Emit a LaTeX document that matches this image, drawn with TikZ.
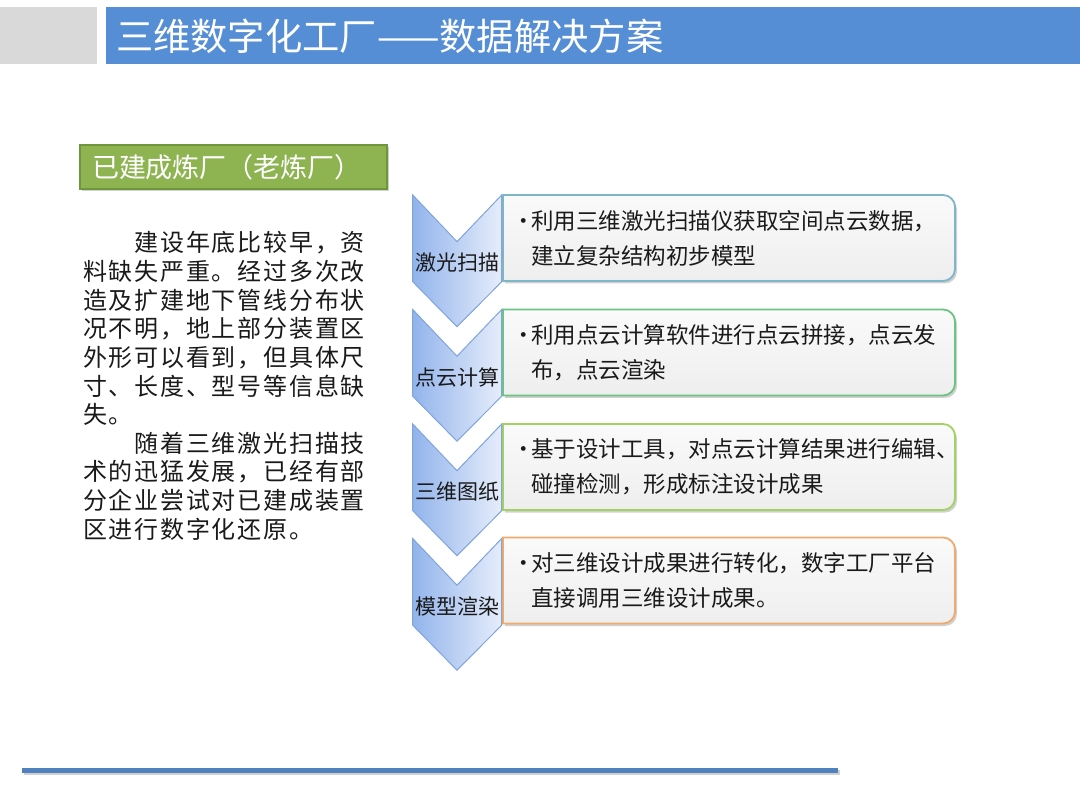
\documentclass[tikz,border=0pt]{standalone}
\usepackage{fontspec}
\newfontfamily\cjk{Noto Sans CJK SC}
\newfontfamily\cjkl[LetterSpace=7.5]{Noto Sans CJK SC}
\usetikzlibrary{shadows}
\definecolor{titlegray}{RGB}{217,217,217}
\definecolor{titleblue}{RGB}{85,142,213}
\definecolor{greenfill}{RGB}{142,180,82}
\definecolor{greenline}{RGB}{112,150,60}
\definecolor{chevL}{RGB}{146,180,236}
\definecolor{chevR}{RGB}{230,237,251}
\definecolor{chevline}{RGB}{128,164,220}
\definecolor{bcA}{RGB}{126,182,200}
\definecolor{bcB}{RGB}{108,196,130}
\definecolor{bcC}{RGB}{163,209,100}
\definecolor{bcD}{RGB}{240,170,110}
\definecolor{boxtop}{RGB}{250,250,250}
\definecolor{boxbot}{RGB}{238,238,238}
\definecolor{lineblue}{RGB}{79,129,189}
\definecolor{txt}{RGB}{26,26,26}
\tikzset{
  boxshadow/.style={drop shadow={shadow xshift=2pt, shadow yshift=-2.5pt, opacity=0.3, fill=black!60}},
  stepbox/.style={draw=#1, line width=1.8, top color=boxtop, bottom color=boxbot, boxshadow},
  chev/.style={draw=chevline, line width=1, left color=chevL, right color=chevR},
  chevlab/.style={font=\cjk\fontsize{21}{21}\selectfont, text=txt},
  boxtxt/.style={font=\cjk\fontsize{22.5}{22.5}\selectfont, text=txt, anchor=west},
  lefttxt/.style={font=\cjkl\fontsize{24}{24}\selectfont, text=txt, anchor=west},
}
\newcommand{\bul}{\makebox[15pt][c]{•}}
\begin{document}
\begin{tikzpicture}[x=1pt,y=-1pt, every node/.style={inner sep=0pt, outer sep=0pt}]
\useasboundingbox (0,0) rectangle (1080,810);
\fill[white] (0,0) rectangle (1080,810);
% title bar
\fill[titlegray] (0,7) rectangle (97,64);
\fill[titleblue] (106,7) rectangle (1080,64);
\node[anchor=west, text=white, font=\cjk\fontsize{37.3}{37.3}\selectfont] (title) at (116,36) {三维数字化工厂——数据解决方案};
% green heading
\node[draw=greenline, line width=1.5, fill=greenfill, boxshadow, minimum width=307, minimum height=44, anchor=north west] (head) at (80,145) {};
\node[anchor=west, text=white, font=\cjk\fontsize{27}{27}\selectfont] (headtxt) at (92,167) {已建成炼厂（老炼厂）};
% left paragraph
\node[lefttxt] (l1) at (134.6,243) {建设年底比较早，资};
\node[lefttxt] (l2) at (83,271.6) {料缺失严重。经过多次改};
\node[lefttxt] (l3) at (83,300.2) {造及扩建地下管线分布状};
\node[lefttxt] (l4) at (83,328.8) {况不明，地上部分装置区};
\node[lefttxt] (l5) at (83,357.4) {外形可以看到，但具体尺};
\node[lefttxt] (l6) at (83,386) {寸、长度、型号等信息缺};
\node[lefttxt] (l7) at (83,414.6) {失。};
\node[lefttxt] (l8) at (134.6,443.2) {随着三维激光扫描技};
\node[lefttxt] (l9) at (83,471.8) {术的迅猛发展，已经有部};
\node[lefttxt] (l10) at (83,500.4) {分企业尝试对已建成装置};
\node[lefttxt] (l11) at (83,529) {区进行数字化还原。};
% boxes
\path[stepbox=bcA] (503,195) [rounded corners=12] -- (955,195) -- (955,281) [sharp corners] -- (503,281) -- cycle;
\path[stepbox=bcB] (503,309.5) [rounded corners=12] -- (955,309.5) -- (955,395.5) [sharp corners] -- (503,395.5) -- cycle;
\path[stepbox=bcC] (503,424) [rounded corners=12] -- (955,424) -- (955,510) [sharp corners] -- (503,510) -- cycle;
\path[stepbox=bcD] (503,537.5) [rounded corners=12] -- (955,537.5) -- (955,623.5) [sharp corners] -- (503,623.5) -- cycle;
% chevrons
\foreach \t/\lab [count=\i] in {195/激光扫描, 309.5/点云计算, 424/三维图纸, 538.5/模型渲染}{
  \path[chev] (412.7,\t) -- (457,\t+46.7) -- (501.7,\t) -- (501.7,\t+86.7) -- (457,\t+131.7) -- (412.7,\t+86.7) -- cycle;
  \node[chevlab] (c\i) at (457,\t+68) {\lab};
}
% box texts
\node[boxtxt] (t1a) at (516,221) {\bul 利用三维激光扫描仪获取空间点云数据，};
\node[boxtxt] (t1b) at (531,256) {建立复杂结构初步模型};
\node[boxtxt] (t2a) at (516,335) {\bul 利用点云计算软件进行点云拼接，点云发};
\node[boxtxt] (t2b) at (531,370) {布，点云渲染};
\node[boxtxt] (t3a) at (516,449.5) {\bul 基于设计工具，对点云计算结果进行编辑、};
\node[boxtxt] (t3b) at (531,484.5) {碰撞检测，形成标注设计成果};
\node[boxtxt] (t4a) at (516,563) {\bul 对三维设计成果进行转化，数字工厂平台};
\node[boxtxt] (t4b) at (531,598) {直接调用三维设计成果。};
% bottom rule
\fill[lineblue, boxshadow] (22,767.5) rectangle (838,772.5);
\end{tikzpicture}
\end{document}
